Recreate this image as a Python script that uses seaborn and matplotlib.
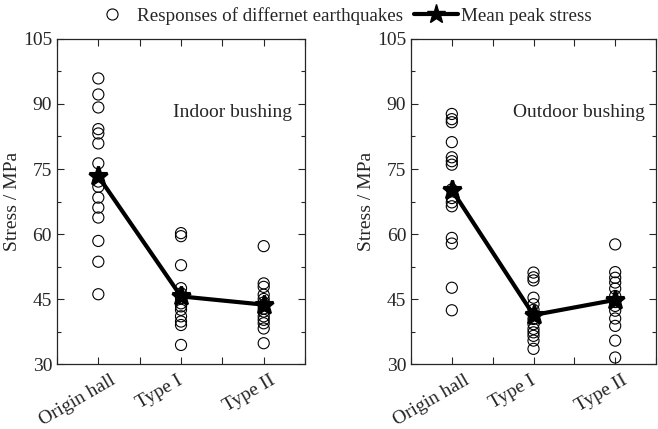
import matplotlib
matplotlib.use("Agg")
import matplotlib.pyplot as plt
from matplotlib.lines import Line2D
from matplotlib.ticker import MultipleLocator
from matplotlib.transforms import ScaledTranslation
import seaborn as sns
import pandas as pd

categories = ["Origin hall", "Type I", "Type II"]

indoor_origin = [95.9, 92.2, 89.2, 84.2, 83.2, 80.9, 76.3, 72.1, 70.9, 68.4, 66.1, 63.8, 58.4, 53.6, 46.1]
indoor_type1 = [60.2, 59.5, 52.8, 47.5, 46.3, 45.2, 44.0, 43.3, 42.5, 41.0, 39.8, 39.0, 34.4]
indoor_type2 = [57.2, 48.6, 47.8, 46.0, 45.0, 44.2, 43.6, 42.8, 42.1, 41.0, 40.2, 39.4, 38.2, 34.8]
indoor_mean = [73.3, 45.6, 43.7]

outdoor_origin = [87.7, 86.5, 85.8, 81.2, 77.7, 76.8, 76.0, 70.3, 68.3, 67.3, 66.4, 59.1, 57.8, 47.6, 42.4]
outdoor_type1 = [51.1, 50.0, 49.3, 45.3, 43.8, 42.5, 41.5, 40.4, 39.2, 38.1, 37.3, 36.5, 35.4, 33.5]
outdoor_type2 = [57.6, 51.2, 49.9, 48.8, 47.4, 45.7, 44.3, 43.4, 42.3, 40.5, 38.8, 35.4, 31.5]
outdoor_mean = [70.2, 41.3, 44.8]

panel_titles = ["Indoor bushing", "Outdoor bushing"]
ylabel = "Stress / MPa"
legend_labels = ["Responses of differnet earthquakes", "Mean peak stress"]

sns.set_style("ticks")
plt.rcParams["font.family"] = ["Liberation Serif", "DejaVu Serif"]

FS = 14

fig = plt.figure(figsize=(6.58, 4.29), dpi=100)
axes = [fig.add_axes([0.0866, 0.1515, 0.377, 0.7576]),
        fig.add_axes([0.6246, 0.1515, 0.3724, 0.7576])]

panels = [
    (indoor_origin, indoor_type1, indoor_type2, indoor_mean),
    (outdoor_origin, outdoor_type1, outdoor_type2, outdoor_mean),
]
title_x = [0.468, 0.415]
label_dx = [12, -4, 6]

for ax, (o, t1, t2, m), title, tx in zip(axes, panels, panel_titles, title_x):
    df = pd.DataFrame({
        "cat": [categories[0]] * len(o) + [categories[1]] * len(t1) + [categories[2]] * len(t2),
        "val": o + t1 + t2,
    })
    sns.stripplot(data=df, x="cat", y="val", order=categories, jitter=False, ax=ax,
                  marker="o", size=8, linewidth=0.8, color="black", zorder=2)
    for coll in ax.collections:
        coll.set_facecolor("none")
        coll.set_edgecolor("black")
    sns.pointplot(x=categories, y=m, order=categories, ax=ax, color="black",
                  markers="*", markersize=14, linewidth=3, errorbar=None, zorder=3)
    ax.set_xlim(-0.5, 2.5)
    ax.set_ylim(30, 105)
    ax.yaxis.set_major_locator(MultipleLocator(15))
    ax.yaxis.set_minor_locator(MultipleLocator(7.5))
    ax.xaxis.set_minor_locator(MultipleLocator(0.5))
    ax.tick_params(which="both", direction="in", top=True, right=True, width=0.8)
    ax.tick_params(which="major", length=5, labelsize=FS)
    ax.tick_params(which="minor", length=3)
    ax.tick_params(axis="x", which="minor", length=5)
    ax.tick_params(axis="x", which="major", pad=6)
    ax.set_xlabel("")
    ax.set_ylabel(ylabel, fontsize=FS, labelpad=1)
    for lab, dx in zip(ax.get_xticklabels(), label_dx):
        lab.set_rotation(30)
        lab.set_ha("right")
        lab.set_rotation_mode("anchor")
        lab.set_transform(lab.get_transform() + ScaledTranslation(dx / 100, 0, fig.dpi_scale_trans))
    for s in ax.spines.values():
        s.set_linewidth(0.9)
        s.set_visible(True)
    ax.text(tx, 0.775, title, transform=ax.transAxes, fontsize=FS, ha="left", va="center")

handles = [
    Line2D([], [], marker="o", linestyle="none", markerfacecolor="none",
           markeredgecolor="black", markersize=8, markeredgewidth=0.8),
    Line2D([], [], marker="*", color="black", linewidth=3, markersize=14),
]
fig.legend(handles, legend_labels, loc="center", bbox_to_anchor=(0.518, 0.963), ncol=2,
           frameon=False, fontsize=13.7, handlelength=2.3, handletextpad=0.15,
           columnspacing=0.6, borderpad=0.1)

fig.savefig("out.png", dpi=100)
